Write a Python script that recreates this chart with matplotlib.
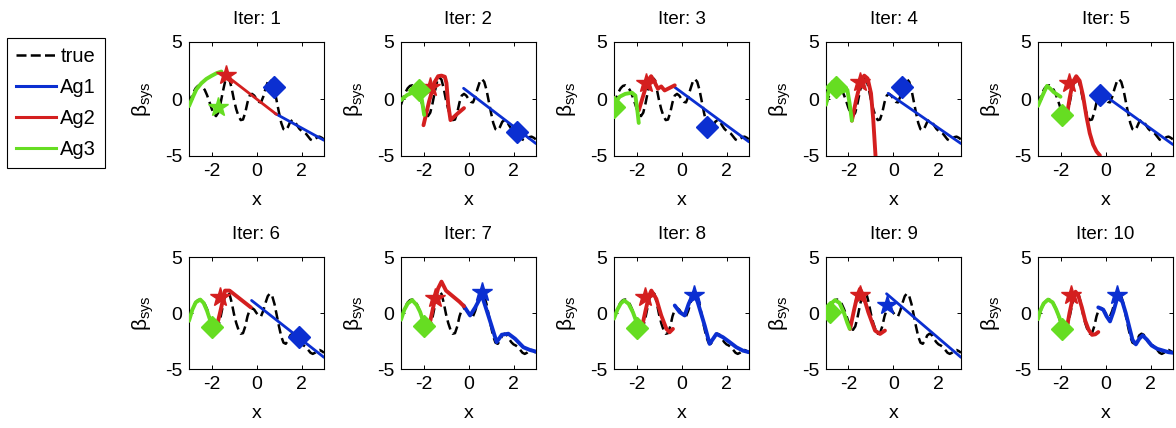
import matplotlib
matplotlib.use("Agg")
import matplotlib.pyplot as plt
from matplotlib.lines import Line2D

plt.rcParams["font.family"] = ["Liberation Sans", "DejaVu Sans"]
plt.rcParams["mathtext.fontset"] = "custom"
plt.rcParams["mathtext.rm"] = "Liberation Sans"
plt.rcParams["mathtext.it"] = "Liberation Sans:italic"

# ---------------- data ----------------
TRUE_X = [-3.0, -2.9, -2.8, -2.7, -2.6, -2.5, -2.4, -2.3, -2.2, -2.1, -2.0,
          -1.9, -1.8, -1.7, -1.6, -1.5, -1.4, -1.3, -1.2, -1.1, -1.0,
          -0.9, -0.8, -0.7, -0.6, -0.5, -0.4, -0.3, -0.2, -0.1, 0.0,
          0.1, 0.2, 0.3, 0.4, 0.5, 0.6, 0.7, 0.8, 0.9, 1.0,
          1.1, 1.2, 1.3, 1.4, 1.5, 1.6, 1.7, 1.8, 1.9, 2.0,
          2.1, 2.2, 2.3, 2.4, 2.5, 2.6, 2.7, 2.8, 2.9, 3.0]
TRUE_Y = [-0.5, 0.1, 0.6, 0.95, 1.15, 1.2, 1.05, 0.8, 0.35, -0.2, -0.8,
          -1.3, -1.5, -1.2, -0.4, 0.6, 1.5, 1.9, 1.7, 0.9, -0.1,
          -0.9, -1.5, -1.85, -1.8, -1.2, -0.3, 0.3, 0.45, 0.3, 0.0,
          -0.25, -0.3, 0.2, 0.9, 1.5, 1.75, 1.5, 0.8, -0.2, -1.2,
          -2.1, -2.65, -2.75, -2.45, -2.0, -1.85, -1.95, -2.3, -2.6, -2.8,
          -2.9, -3.05, -3.3, -3.55, -3.65, -3.55, -3.35, -3.3, -3.4, -3.55]

ITERS = [1, 2, 3, 4, 5, 6, 7, 8, 9, 10]

# Ag1 (blue)
AG1_X = [
    [0.82, 3.0],
    [-0.22, 3.0],
    [-0.3, 3.0],
    [-0.24, 3.0],
    [-0.35, 3.0],
    [-0.22, 3.0],
    [-0.22, 0.07, 0.3, 0.59, 0.88, 1.05, 1.25, 1.48, 1.77, 2.07, 2.44, 2.73, 3.0],
    [-0.3, -0.08, 0.14, 0.32, 0.56, 0.73, 1.03, 1.25, 1.55, 1.84, 2.14, 2.44, 2.73, 3.0],
    [-0.31, 3.0],
    [-0.32, -0.1, 0.05, 0.2, 0.35, 0.5, 0.6, 0.75, 0.9, 1.05, 1.2, 1.35, 1.5,
     1.65, 1.85, 2.05, 2.3, 2.55, 2.8, 3.0],
]
AG1_Y = [
    [-1.26, -3.62],
    [0.94, -3.91],
    [1.03, -3.76],
    [0.5, -3.91],
    [0.75, -4.0],
    [1.12, -3.96],
    [0.67, -0.22, 0.5, 1.6, -0.22, -1.3, -2.6, -1.94, -1.85, -2.3, -3.06, -3.3, -3.45],
    [0.67, 0.07, -0.22, 0.82, 1.87, 0.9, -1.12, -2.76, -1.87, -2.16, -2.6, -3.06, -3.36, -3.5],
    [1.72, -3.96],
    [0.5, 0.3, -0.3, -0.75, 0.1, 1.2, 1.6, 1.0, 0.0, -1.2, -2.4, -2.8, -2.3,
     -2.0, -2.4, -2.9, -3.2, -3.35, -3.5, -3.55],
]
AG1_MARK = ["D", "D", "D", "D", "D", "D", "*", "*", "*", "*"]
AG1_MX = [0.77, 2.14, 1.15, 0.4, -0.24, 1.9, 0.59, 0.56, -0.31, 0.5]
AG1_MY = [1.03, -2.88, -2.5, 1.03, 0.35, -2.1, 1.9, 1.63, 0.67, 1.63]

# Ag2 (red)
AG2_X = [
    [-1.48, 0.89],
    [-2.0, -1.75, -1.5, -1.35, -1.2, -1.05, -0.98, -0.9, -0.8, -0.5, -0.2],
    [-1.9, -1.7, -1.5, -1.35, -1.2, -1.05, -0.9, -0.75, -0.55, -0.3],
    [-1.85, -1.65, -1.45, -1.3, -1.15, -1.0, -0.9, -0.78],
    [-1.75, -1.6, -1.45, -1.3, -1.15, -1.0, -0.85, -0.7, -0.55, -0.4, -0.25],
    [-1.8, -1.6, -1.4, -1.2, -0.25],
    [-1.75, -1.55, -1.35, -1.2, -1.0, -0.7, -0.4, -0.2],
    [-1.79, -1.6, -1.45, -1.34, -1.12, -0.9, -0.67, -0.53, -0.38],
    [-1.93, -1.75, -1.6, -1.49, -1.35, -1.12, -0.82, -0.6, -0.38],
    [-1.75, -1.6, -1.45, -1.33, -1.2, -1.05, -0.9, -0.75, -0.6, -0.45, -0.32],
]
AG2_Y = [
    [2.26, -1.35],
    [-2.3, -0.2, 1.5, 2.0, 2.05, 1.95, 1.4, -0.5, -1.85, -1.3, -0.8],
    [-1.0, 0.3, 1.6, 2.0, 1.5, 0.9, 1.1, 0.75, 0.95, 1.2],
    [-1.9, 0.0, 1.6, 2.05, 1.8, 0.5, -1.8, -5.6],
    [-1.9, 0.0, 1.5, 2.0, 1.6, 0.3, -1.5, -3.0, -4.0, -4.6, -4.95],
    [-1.5, 0.2, 2.0, 2.0, 0.5],
    [-1.2, 0.7, 2.2, 2.8, 2.0, 1.5, 1.0, 0.6],
    [-1.57, 0.2, 1.5, 2.0, 1.27, -0.22, -1.42, -1.72, -1.42],
    [-1.42, 0.3, 1.6, 2.16, 1.6, 0.07, -1.57, -1.87, -1.57],
    [-1.7, 0.0, 1.4, 1.9, 1.5, 0.5, -0.7, -1.5, -1.95, -1.9, -1.7],
]
AG2_MARK = ["*"] * 10
AG2_MX = [-1.34, -1.7, -1.6, -1.51, -1.61, -1.63, -1.48, -1.64, -1.51, -1.53]
AG2_MY = [2.12, 1.03, 1.38, 1.53, 1.44, 1.42, 1.37, 1.42, 1.57, 1.57]

# Ag3 (green)
AG3_X = [
    [-3.0, -2.82, -2.67, -2.45, -2.23, -2.0, -1.78, -1.56],
    [-3.0, -2.73, -2.44, -2.22, -2.07, -1.97],
    [-3.0, -2.75, -2.5, -2.2, -2.05, -1.95, -1.9],
    [-3.0, -2.9, -2.7, -2.55, -2.35, -2.05, -1.95, -1.85],
    [-3.0, -2.8, -2.6, -2.45, -2.3, -2.0],
    [-3.0, -2.85, -2.7, -2.5, -2.35, -2.2, -2.05],
    [-3.0, -2.85, -2.7, -2.5, -2.3, -2.15, -2.0],
    [-3.0, -2.85, -2.7, -2.55, -2.35, -2.16, -2.0],
    [-3.0, -2.8, -2.6, -2.4, -2.2, -2.05, -1.95],
    [-3.0, -2.9, -2.75, -2.55, -2.35, -2.2, -2.05, -1.95],
]
AG3_Y = [
    [-0.62, 0.21, 0.85, 1.38, 1.76, 2.03, 2.26, 2.41],
    [-0.1, 0.35, 0.6, 0.85, -0.1, -1.4],
    [-0.5, 0.2, 0.45, 0.55, 0.3, -1.2, -2.1],
    [-0.5, 0.6, 1.5, 1.2, 0.6, 0.8, -0.4, -1.9],
    [-0.6, 0.3, 1.15, 0.9, 0.6, 0.2],
    [-0.7, 0.3, 0.95, 1.2, 0.9, 0.2, -0.7],
    [-0.6, 0.3, 0.85, 1.15, 0.7, 0.1, -0.8],
    [-0.5, 0.3, 0.85, 1.12, 0.82, 0.07, -0.8],
    [0.0, 0.8, 1.15, 0.9, 0.0, -0.9, -1.4],
    [-0.55, 0.2, 0.85, 1.2, 0.95, 0.35, -0.4, -1.0],
]
AG3_MARK = ["*", "D", "D", "D", "D", "D", "D", "D", "D", "D"]
AG3_MX = [-1.71, -2.22, -3.0, -2.54, -1.94, -2.0, -2.0, -2.0, -2.84, -1.94]
AG3_MY = [-0.68, 0.79, -0.74, 1.03, -1.41, -1.27, -1.12, -1.3, 0.07, -1.42]

LEGEND_LABELS = ["true", "Ag1", "Ag2", "Ag3"]

# ---------------- style ----------------
C_BLUE = "#0b2fd1"
C_RED = "#d41f1f"
C_GREEN = "#66dd22"
TRUE_DASH = (0, (3.8, 1.9))
W, H = 1176, 428

fig = plt.figure(figsize=(W / 100, H / 100), dpi=100)
fig.patch.set_facecolor("white")

col_left = [189, 401, 614, 826, 1038]
row_top = [42, 257]
row_h = [114, 112]
ax_w = 135

agents = [
    (AG1_X, AG1_Y, AG1_MARK, AG1_MX, AG1_MY, C_BLUE),
    (AG2_X, AG2_Y, AG2_MARK, AG2_MX, AG2_MY, C_RED),
    (AG3_X, AG3_Y, AG3_MARK, AG3_MX, AG3_MY, C_GREEN),
]

for i, it in enumerate(ITERS):
    r, c = divmod(i, 5)
    l, t, h = col_left[c], row_top[r], row_h[r]
    ax = fig.add_axes([l / W, 1 - (t + h) / H, ax_w / W, h / H])
    ax.plot(TRUE_X, TRUE_Y, color="black", lw=1.8, linestyle=TRUE_DASH, zorder=2)
    for xs, ys, mk, mx, my, col in agents:
        # linear fits are drawn thinner than the nonlinear local models
        lw = 2.0 if len(xs[i]) == 2 else 2.8
        ax.plot(xs[i], ys[i], color=col, lw=lw, zorder=3,
                solid_joinstyle="round", solid_capstyle="round")
    for xs, ys, mk, mx, my, col in agents:
        size = 15 if mk[i] == "*" else 11
        ax.plot([mx[i]], [my[i]], marker=mk[i], color=col, markersize=size,
                markeredgecolor=col, linestyle="none", zorder=4)
    ax.set_xlim(-3, 3)
    ax.set_ylim(-5, 5)
    ax.set_xticks([-2, 0, 2])
    ax.set_yticks([-5, 0, 5])
    ax.set_xticklabels(["-2", "0", "2"])
    ax.set_yticklabels(["-5", "0", "5"])
    ax.tick_params(direction="in", length=3, width=0.7, top=True, right=True,
                   labelsize=14, pad=5)
    for s in ax.spines.values():
        s.set_linewidth(0.8)
    ax.set_title(f"Iter: {it}", fontsize=13.5, pad=13)
    ax.set_xlabel("x", fontsize=14, labelpad=9)
    ax.set_ylabel(r"$\mathrm{\beta}_{\mathrm{sys}}$", fontsize=15, labelpad=6)

handles = [
    Line2D([], [], color="black", lw=1.8, linestyle=(0, (4.0, 1.7))),
    Line2D([], [], color=C_BLUE, lw=2.2),
    Line2D([], [], color=C_RED, lw=2.2),
    Line2D([], [], color=C_GREEN, lw=2.2),
]
leg = fig.legend(handles, LEGEND_LABELS, loc="upper left",
                 bbox_to_anchor=(7 / W, 1 - 38 / H), borderaxespad=0,
                 fontsize=14.5, handlelength=2.0, handletextpad=0.2,
                 labelspacing=0.6, borderpad=0.45, fancybox=False,
                 framealpha=1, edgecolor="black")
leg.get_frame().set_linewidth(0.8)

fig.savefig("out.png", dpi=100, facecolor="white")
